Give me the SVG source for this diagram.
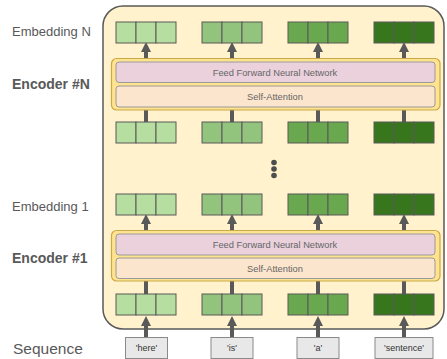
<svg xmlns="http://www.w3.org/2000/svg" width="447" height="359" viewBox="0 0 447 359">
<style>
.lbl{font-family:"Liberation Sans",Arial,sans-serif;fill:#595959}
.emb{font-size:13px}
.enc{font-size:14px;font-weight:bold}
.seq{font-size:15.5px}
.c1{fill:#b6dea0;stroke:#595959;stroke-width:1}
.c2{fill:#93c47d;stroke:#595959;stroke-width:1}
.c3{fill:#6aa84f;stroke:#595959;stroke-width:1}
.c4{fill:#38761d;stroke:#595959;stroke-width:1}
.encbox{fill:#ffe38f;stroke:#c9a94a;stroke-width:1.2}
.ffn{fill:#ead1dc;stroke:#9a9a9a;stroke-width:1}
.sa{fill:#fce5cd;stroke:#9a9a9a;stroke-width:1}
.t{font-family:"Liberation Sans",Arial,sans-serif;font-size:9.3px;fill:#666;text-anchor:middle}
.tok{fill:#e8e8e8;stroke:#8a8a8a;stroke-width:1}
.tt{font-family:"Liberation Sans",Arial,sans-serif;font-size:9px;fill:#333;text-anchor:middle}
.ar{stroke:#595959;stroke-width:4;fill:none}
</style>
<defs>
<marker id="ah" markerUnits="userSpaceOnUse" markerWidth="10" markerHeight="10" refX="0" refY="5" orient="auto" viewBox="0 0 10 10">
<path d="M0,0 L10,5 L0,10 z" fill="#595959"/>
</marker>
<g id="row">
<rect class="c1" x="116" y="0" width="20" height="21"/><rect class="c1" x="136" y="0" width="20" height="21"/><rect class="c1" x="156" y="0" width="20" height="21"/>
<rect class="c2" x="202" y="0" width="20" height="21"/><rect class="c2" x="222" y="0" width="20" height="21"/><rect class="c2" x="242" y="0" width="20" height="21"/>
<rect class="c3" x="288" y="0" width="20" height="21"/><rect class="c3" x="308" y="0" width="20" height="21"/><rect class="c3" x="328" y="0" width="20" height="21"/>
<rect class="c4" x="374" y="0" width="20" height="21"/><rect class="c4" x="394" y="0" width="20" height="21"/><rect class="c4" x="414" y="0" width="20" height="21"/>
</g>
</defs>
<rect width="447" height="359" fill="#ffffff"/>
<g id="labels">
<text class="lbl emb" x="12" y="36">Embedding N</text>
<text class="lbl enc" x="12" y="89">Encoder #N</text>
<text class="lbl emb" x="12" y="211">Embedding 1</text>
<text class="lbl enc" x="12" y="263">Encoder #1</text>
<text class="lbl seq" x="13" y="354">Sequence</text>
</g>
<g id="stack">
<rect x="103" y="6" width="341" height="323" rx="20" fill="#fff2cc" stroke="#595959" stroke-width="1.5"/>
</g>
<g id="connectors">
<line class="ar" x1="146" y1="59" x2="146" y2="52" marker-end="url(#ah)"/>
<line class="ar" x1="232" y1="59" x2="232" y2="52" marker-end="url(#ah)"/>
<line class="ar" x1="318" y1="59" x2="318" y2="52" marker-end="url(#ah)"/>
<line class="ar" x1="404" y1="59" x2="404" y2="52" marker-end="url(#ah)"/>
<line class="ar" x1="146" y1="122" x2="146" y2="109"/>
<line class="ar" x1="232" y1="122" x2="232" y2="109"/>
<line class="ar" x1="318" y1="122" x2="318" y2="109"/>
<line class="ar" x1="404" y1="122" x2="404" y2="109"/>
<line class="ar" x1="146" y1="231" x2="146" y2="224" marker-end="url(#ah)"/>
<line class="ar" x1="232" y1="231" x2="232" y2="224" marker-end="url(#ah)"/>
<line class="ar" x1="318" y1="231" x2="318" y2="224" marker-end="url(#ah)"/>
<line class="ar" x1="404" y1="231" x2="404" y2="224" marker-end="url(#ah)"/>
<line class="ar" x1="146" y1="294" x2="146" y2="280"/>
<line class="ar" x1="232" y1="294" x2="232" y2="280"/>
<line class="ar" x1="318" y1="294" x2="318" y2="280"/>
<line class="ar" x1="404" y1="294" x2="404" y2="280"/>
<line class="ar" x1="146" y1="338" x2="146" y2="326" marker-end="url(#ah)"/>
<line class="ar" x1="232" y1="338" x2="232" y2="326" marker-end="url(#ah)"/>
<line class="ar" x1="318" y1="338" x2="318" y2="326" marker-end="url(#ah)"/>
<line class="ar" x1="404" y1="338" x2="404" y2="326" marker-end="url(#ah)"/>
</g>
<g id="embeddingN"><use href="#row" y="22"/></g>
<g id="encoderN">
<rect class="encbox" x="111.5" y="58.5" width="328.5" height="51.5" rx="5"/>
<rect class="ffn" x="116" y="62" width="319" height="20.5" rx="3"/>
<text class="t" x="275" y="75.5">Feed Forward Neural Network</text>
<rect class="sa" x="116" y="86" width="319" height="21" rx="3"/>
<text class="t" x="275" y="100">Self-Attention</text>
</g>
<g id="embeddingN-1"><use href="#row" y="122"/></g>
<g id="ellipsis" fill="#4d4d4d">
<circle cx="274" cy="162.5" r="2.8"/><circle cx="274" cy="169" r="2.8"/><circle cx="274" cy="175.5" r="2.8"/>
</g>
<g id="embedding1"><use href="#row" y="194"/></g>
<g id="encoder1">
<rect class="encbox" x="111.5" y="230.5" width="328.5" height="50.5" rx="5"/>
<rect class="ffn" x="116" y="234" width="319" height="21" rx="3"/>
<text class="t" x="275" y="247.5">Feed Forward Neural Network</text>
<rect class="sa" x="116" y="258" width="319" height="20.5" rx="3"/>
<text class="t" x="275" y="272">Self-Attention</text>
</g>
<g id="embedding0"><use href="#row" y="294"/></g>
<g id="tok-here"><rect class="tok" x="125.5" y="337.5" width="42" height="21"/><text class="tt" x="146.5" y="351">'here'</text></g>
<g id="tok-is"><rect class="tok" x="211" y="337.5" width="42" height="21"/><text class="tt" x="232" y="351">'is'</text></g>
<g id="tok-a"><rect class="tok" x="297" y="337.5" width="42" height="21"/><text class="tt" x="318" y="351">'a'</text></g>
<g id="tok-sentence"><rect class="tok" x="375" y="337.5" width="58" height="21"/><text class="tt" x="404" y="351">'sentence'</text></g>
</svg>
